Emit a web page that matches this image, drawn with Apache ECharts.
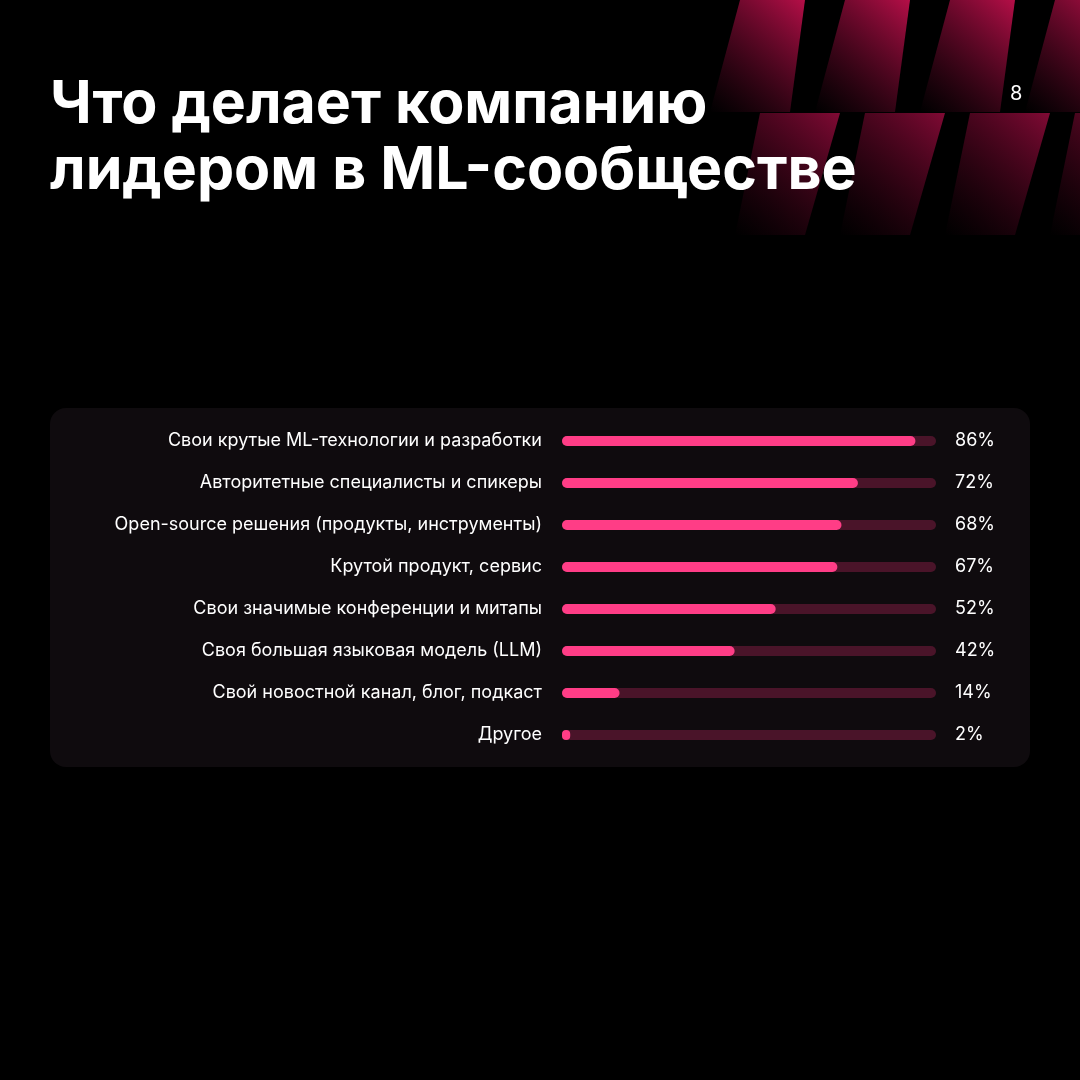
<!DOCTYPE html>
<html><head><meta charset="utf-8">
<script src="https://cdn.jsdelivr.net/npm/echarts@6/dist/echarts.min.js"></script>
<style>html,body{margin:0;background:#000}#c{width:1080px;height:1080px}</style>
</head><body><div id="c"></div>
<script>
const categories = ["Свои крутые ML-технологии и разработки","Авторитетные специалисты и спикеры","Open-source решения (продукты, инструменты)","Крутой продукт, сервис","Свои значимые конференции и митапы","Своя большая языковая модель (LLM)","Свой новостной канал, блог, подкаст","Другое"];
const values = [86,72,68,67,52,42,14,2];
const valueLabels = ["86%","72%","68%","67%","52%","42%","14%","2%"];
const trackMax = 91;

const chart = echarts.init(document.getElementById('c'));
const stripes = [];
const grad = {type:'linear',x:0,y:1,x2:1,y2:0,colorStops:[{offset:0,color:'rgba(120,10,50,0)'},{offset:1,color:'rgba(190,15,75,0.95)'}]};
[[700,0],[805,0],[910,0],[1015,0]].forEach(([x])=>{
  stripes.push({type:'polygon',shape:{points:[[x+40,0],[x+105,0],[x+90,112],[x+10,112]]},style:{fill:grad}});
});
[[760],[865],[970],[1075]].forEach(([x])=>{
  stripes.push({type:'polygon',shape:{points:[[x,113],[x+80,113],[x+45,235],[x-25,235]]},style:{fill:{type:'linear',x:0,y:1,x2:1,y2:0,colorStops:[{offset:0,color:'rgba(90,5,35,0)'},{offset:1,color:'rgba(160,12,65,0.8)'}]}}});
});
chart.setOption({
  backgroundColor:'#000',
  graphic:[
    ...stripes,
    {type:'rect',shape:{x:50,y:408,width:980,height:359,r:16},style:{fill:'#0f0b0e'}},
    {type:'text',left:50,top:72,style:{text:'Что делает компанию\nлидером в ML-сообществе',fill:'#fff',font:'700 59px Inter',lineHeight:66}},
    {type:'text',left:1010,top:84,style:{text:'8',fill:'#fff',font:'400 20px Inter'}}
  ],
  grid:{left:562,right:144,top:420,height:336},
  xAxis:{type:'value',min:0,max:trackMax,show:false},
  yAxis:[
    {type:'category',data:categories,inverse:true,axisLine:{show:false},axisTick:{show:false},
     axisLabel:{color:'#fff',fontFamily:'Inter',fontSize:18,margin:20}},
    {type:'category',data:valueLabels,inverse:true,position:'right',axisLine:{show:false},axisTick:{show:false},
     axisLabel:{color:'#fff',fontFamily:'Inter',fontSize:18,margin:19,align:'left'}}
  ],
  series:[
    {type:'bar',data:categories.map(()=>trackMax),barWidth:10,itemStyle:{color:'#4a1429',borderRadius:5},silent:true,z:1},
    {type:'bar',data:values,barWidth:10,barGap:'-100%',itemStyle:{color:'#ff3d86',borderRadius:5},z:2}
  ],
  animation:false
});
</script></body></html>
